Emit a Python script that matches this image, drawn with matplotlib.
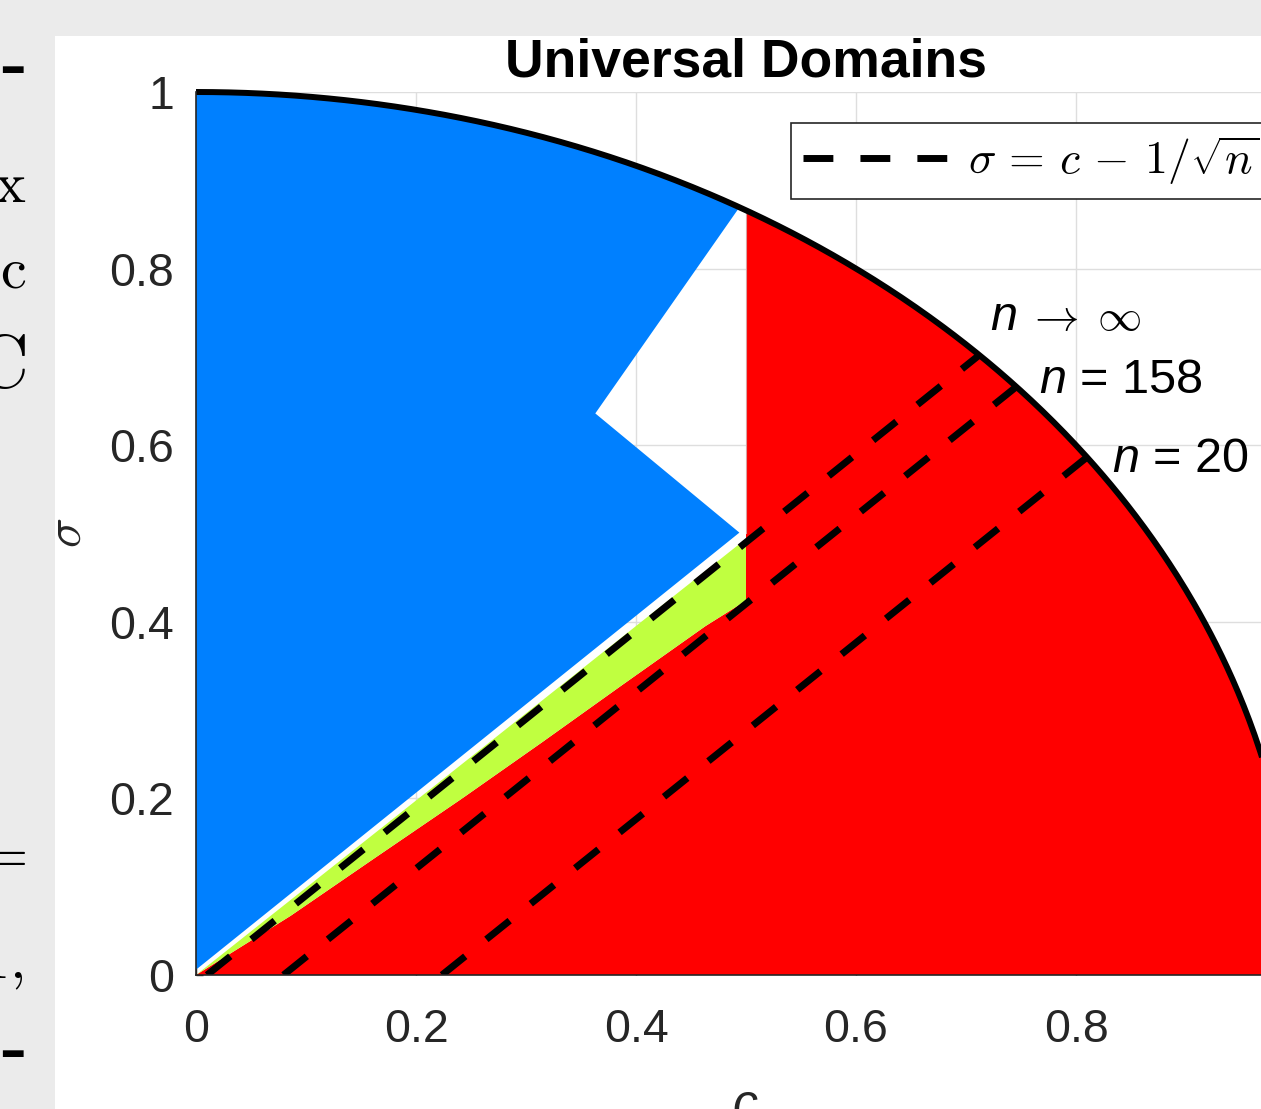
import numpy as np
import matplotlib
matplotlib.use("Agg")
import matplotlib.pyplot as plt
from matplotlib.patches import Rectangle, Polygon
from matplotlib.lines import Line2D
from matplotlib.font_manager import FontProperties

plt.rcParams['font.family'] = ['Liberation Sans', 'DejaVu Sans']
plt.rcParams['mathtext.fontset'] = 'custom'
plt.rcParams['mathtext.it'] = 'Liberation Sans:italic'
plt.rcParams['mathtext.rm'] = 'Liberation Sans'
plt.rcParams['mathtext.sf'] = 'Liberation Sans'

# ---------------- data ----------------
title = "Universal Domains"
x_tick_vals = [0, 0.2, 0.4, 0.6, 0.8]
x_tick_labels = ["0", "0.2", "0.4", "0.6", "0.8"]
y_tick_vals = [0, 0.2, 0.4, 0.6, 0.8, 1]
y_tick_labels = ["0", "0.2", "0.4", "0.6", "0.8", "1"]

# region boundaries (c, sigma)
c_split = 0.5
green_low_c = [0.0, 0.086, 0.162, 0.242, 0.314, 0.387, 0.463, 0.5]
green_low_s = [0.0, 0.067, 0.132, 0.200, 0.263, 0.328, 0.395, 0.424]
green_top_c = [0.0, 0.5]
green_top_s = [0.0, 0.494]
blue_low_c = [0.0, 0.494]
blue_low_s = [0.006, 0.501]
notch_c = [0.494, 0.363, 0.494]
notch_s = [0.501, 0.636, 0.8694]

n_values = [1e4, 158, 20]
n_labels = ["inf", "158", "20"]

BLUE = "#0080ff"
RED = "#ff0000"
GREEN = "#c0ff40"
DARK = "#262626"
DASH_LW = 5.0
DASHES = (4.3, 3.9)

W, H = 1261, 1109
fig = plt.figure(figsize=(W / 100, H / 100), dpi=100, facecolor="#ebebeb")
fig.add_artist(Rectangle((55 / W, 0), 1 - 55 / W, 1 - 36 / H, transform=fig.transFigure,
                         facecolor="white", edgecolor="none", zorder=0))

def fx(x):
    return x / W

def fy(y):
    return 1 - y / H

ax = fig.add_axes([196 / W, (H - 975) / H, 1100 / W, 883 / H])
ax.set_xlim(0, 1)
ax.set_ylim(0, 1)
ax.patch.set_alpha(0)

def circ(c0, c1, num=200):
    cc = np.linspace(c0, c1, num)
    return list(cc), list(np.sqrt(np.clip(1 - cc ** 2, 0, None)))

# red region
cc, ss = circ(c_split, 1.0)
red_c = green_low_c + [c_split] + cc + [1.0, 0.0]
red_s = green_low_s + [np.sqrt(1 - c_split ** 2)] + ss + [0.0, 0.0]
ax.add_patch(Polygon(np.column_stack([red_c, red_s]), closed=True, facecolor=RED,
                     edgecolor="none", zorder=1))

# green region
g_c = green_top_c + [c_split] + green_low_c[::-1]
g_s = green_top_s + [green_low_s[-1]] + green_low_s[::-1]
ax.add_patch(Polygon(np.column_stack([g_c, g_s]), closed=True, facecolor=GREEN,
                     edgecolor="none", zorder=1))

# blue region
cc, ss = circ(notch_c[-1], 0.0)
b_c = blue_low_c + notch_c[1:] + cc + [0.0]
b_s = blue_low_s + notch_s[1:] + ss + [blue_low_s[0]]
ax.add_patch(Polygon(np.column_stack([b_c, b_s]), closed=True, facecolor=BLUE,
                     edgecolor="none", zorder=1))

# thin separator at c = 0.5 in the white notch
ax.plot([c_split, c_split], [notch_s[0], np.sqrt(1 - c_split ** 2)], color="#d9a0a0",
        lw=0.8, zorder=1.5)

# circle
cc, ss = circ(0.0, 1.0, 400)
ax.plot(cc, ss, color="black", lw=4.3, solid_capstyle="butt", clip_on=False, zorder=3)

# dashed lines sigma = c - 1/sqrt(n)
for n in n_values:
    d = 1 / np.sqrt(n)
    c1 = (d + np.sqrt(2 - d * d)) / 2
    ax.plot([d, c1], [0, c1 - d], color="black", lw=DASH_LW, dashes=DASHES,
            dash_capstyle="butt", zorder=2)

# axes styling
ax.set_xticks(x_tick_vals, x_tick_labels)
ax.set_yticks(y_tick_vals, y_tick_labels)
ax.grid(True, color="#dedede", lw=1.0)
ax.set_axisbelow(True)
for s in ["top", "right"]:
    ax.spines[s].set_visible(False)
for s in ["left", "bottom"]:
    ax.spines[s].set_color(DARK)
    ax.spines[s].set_linewidth(1.2)
    ax.spines[s].set_zorder(4)
ax.tick_params(direction="in", length=5, width=1, colors=DARK, labelsize=33.5)
ax.tick_params(axis="x", pad=24)
ax.tick_params(axis="y", pad=16)

ax.set_title(title, fontsize=38.5, fontweight="bold", pad=11, color="black")

# legend
proxy = Line2D([0], [0], color="black", lw=DASH_LW, dashes=DASHES, dash_capstyle="butt")
leg = ax.legend(handles=[proxy], labels=[r"$\sigma\,=\,c\,-\,1/\sqrt{n}\qquad$"],
                loc="upper left", bbox_to_anchor=(0.541, 0.965), borderaxespad=0,
                fancybox=False, edgecolor=DARK, framealpha=1,
                prop=FontProperties(family="Liberation Sans", size=33, math_fontfamily="cm"),
                handlelength=3.15, handletextpad=0.45, borderpad=0.25)
leg.get_frame().set_linewidth(1.2)
leg.set_zorder(5)

# labels
fig.text(fx(745), fy(1083), "c", ha="center", va="top", fontsize=36, style="italic",
         color=DARK)
fig.text(fx(68), fy(533), r"$\sigma$", rotation=90, ha="center", va="center",
         fontsize=36, math_fontfamily="cm", color=DARK)

# line annotations
fig.text(fx(990), fy(330), "n", fontsize=35, style="italic", ha="left", va="baseline")
fig.text(fx(1027), fy(330), r"$\rightarrow$", fontsize=32, math_fontfamily="cm",
         ha="left", va="baseline")
fig.text(fx(1097), fy(330), r"$\infty$", fontsize=32, math_fontfamily="cm",
         ha="left", va="baseline")
fig.text(fx(1039), fy(393), r"$\mathit{n}$ = " + n_labels[1], fontsize=35, ha="left",
         va="baseline")
fig.text(fx(1112), fy(472), r"$\mathit{n}$ = " + n_labels[2], fontsize=35, ha="left",
         va="baseline")

# partially visible text from neighbouring panel (left gray strip)
cm = dict(math_fontfamily="cm", ha="right", va="baseline", color="black")
fig.text(fx(26), fy(202), r"$\mathrm{x}$", fontsize=42, **cm)
fig.text(fx(26), fy(288), r"$\mathrm{c}$", fontsize=42, **cm)
fig.text(fx(26), fy(387), r"$\mathrm{C}$", fontsize=55, **cm)
fig.text(fx(26), fy(871), r"$=$", fontsize=42, **cm)
fig.text(fx(23), fy(978), r"$\mathrm{1,}$", fontsize=42, **cm)
fig.text(fx(26), fy(84), "\u2013", fontsize=38, fontweight="bold", family="DejaVu Sans",
         ha="right", va="baseline", color="black")
fig.text(fx(26), fy(1068), "\u2013", fontsize=38, fontweight="bold", family="DejaVu Sans",
         ha="right", va="baseline", color="black")

fig.savefig("out.png", dpi=100, facecolor=fig.get_facecolor())
